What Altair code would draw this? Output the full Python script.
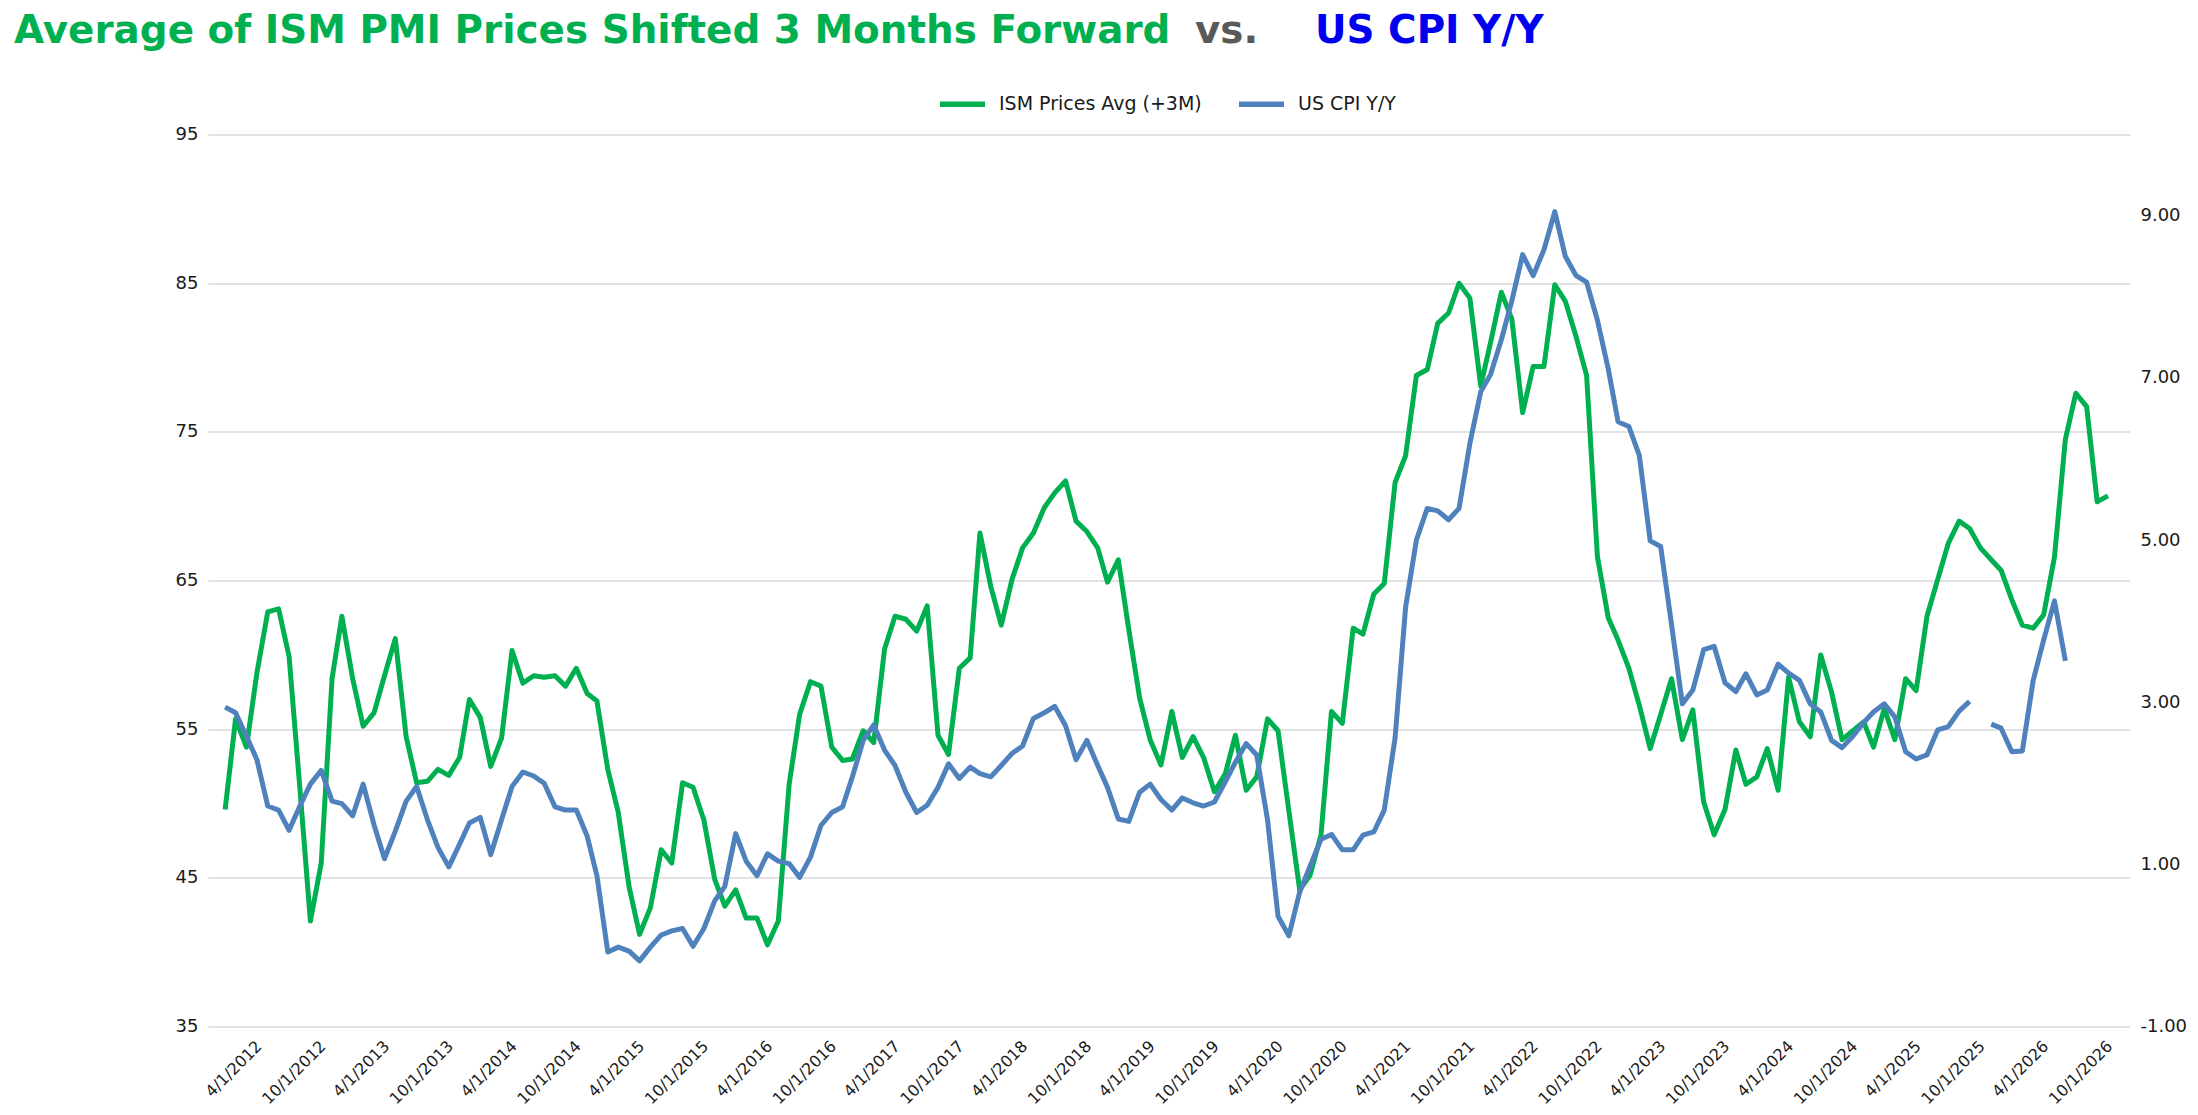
import altair as alt
import pandas as pd

# ---------------- data ----------------
ism_prices_avg = [
    49.6, 55.7, 53.8, 58.8, 62.9, 63.1, 59.9, 51.0, 42.1, 46.0,
    58.4, 62.6, 58.4, 55.2, 56.1, 58.6, 61.1, 54.5, 51.4, 51.5,
    52.3, 51.9, 53.1, 57.0, 55.8, 52.5, 54.4, 60.3, 58.1, 58.6,
    58.5, 58.6, 57.9, 59.1, 57.4, 56.9, 52.3, 49.4, 44.4, 41.2,
    43.0, 46.9, 46.0, 51.4, 51.1, 48.9, 44.9, 43.1, 44.2, 42.3,
    42.3, 40.5, 42.1, 51.3, 56.0, 58.2, 57.9, 53.8, 52.9, 53.0,
    54.9, 54.1, 60.4, 62.6, 62.4, 61.6, 63.3, 54.6, 53.3, 59.1,
    59.8, 68.2, 64.6, 62.0, 65.1, 67.2, 68.2, 69.9, 70.9, 71.7,
    69.0, 68.3, 67.2, 64.9, 66.4, 61.7, 57.1, 54.3, 52.6, 56.2,
    53.1, 54.5, 53.1, 50.8, 52.0, 54.6, 50.9, 51.8, 55.7, 54.9,
    49.5, 44.2, 45.2, 47.9, 56.2, 55.4, 61.8, 61.4, 64.1, 64.8,
    71.6, 73.4, 78.8, 79.2, 82.3, 83.0, 85.0, 84.0, 78.1, 81.0,
    84.4, 82.6, 76.3, 79.4, 79.4, 84.9, 83.8, 81.4, 78.8, 66.6,
    62.5, 61.0, 59.1, 56.6, 53.7, 56.0, 58.4, 54.3, 56.3, 50.1,
    47.9, 49.6, 53.6, 51.3, 51.8, 53.7, 50.9, 58.5, 55.5, 54.5,
    60.0, 57.5, 54.3, 54.9, 55.5, 53.8, 56.4, 54.3, 58.4, 57.6,
    62.6, 65.1, 67.5, 69.0, 68.5, 67.2, 66.4, 65.7, 63.7, 62.0,
    61.8, 62.7, 66.6, 74.5, 77.6, 76.7, 70.3, 70.7,
]

us_cpi_yy = [
    2.94, 2.87, 2.58, 2.29, 1.72, 1.67, 1.42, 1.72, 1.99, 2.16,
    1.78, 1.75, 1.60, 1.99, 1.49, 1.07, 1.41, 1.78, 1.96, 1.55,
    1.21, 0.97, 1.25, 1.51, 1.58, 1.12, 1.55, 1.96, 2.14, 2.09,
    2.00, 1.71, 1.67, 1.67, 1.35, 0.86, -0.08, -0.02, -0.07, -0.19,
    -0.02, 0.13, 0.18, 0.21, -0.01, 0.21, 0.55, 0.73, 1.38, 1.04,
    0.86, 1.13, 1.04, 1.01, 0.84, 1.09, 1.48, 1.64, 1.71, 2.08,
    2.53, 2.72, 2.41, 2.22, 1.89, 1.64, 1.73, 1.95, 2.24, 2.06,
    2.20, 2.12, 2.08, 2.22, 2.37, 2.46, 2.80, 2.87, 2.95, 2.71,
    2.29, 2.53, 2.22, 1.95, 1.56, 1.53, 1.89, 1.99, 1.80, 1.67,
    1.82, 1.76, 1.72, 1.77, 2.02, 2.26, 2.49, 2.35, 1.55, 0.36,
    0.12, 0.66, 0.98, 1.31, 1.37, 1.18, 1.18, 1.36, 1.40, 1.67,
    2.56, 4.17, 5.00, 5.39, 5.36, 5.25, 5.39, 6.19, 6.83, 7.04,
    7.47, 7.95, 8.52, 8.26, 8.58, 9.05, 8.50, 8.26, 8.18, 7.71,
    7.11, 6.46, 6.40, 6.04, 4.99, 4.92, 3.96, 2.98, 3.15, 3.65,
    3.69, 3.24, 3.13, 3.35, 3.09, 3.15, 3.47, 3.36, 3.27, 2.98,
    2.88, 2.53, 2.44, 2.58, 2.75, 2.88, 2.98, 2.82, 2.39, 2.30,
    2.35, 2.66, 2.70, 2.89, 3.01, None, 2.73, 2.68, 2.39, 2.40,
    3.27, 3.77, 4.25, 3.51,
]

series_names = ["ISM Prices Avg (+3M)", "US CPI Y/Y"]
title_parts = ["Average of ISM PMI Prices Shifted 3 Months Forward", "vs.", "US CPI Y/Y"]

x_tick_labels = [
    "4/1/2012", "10/1/2012", "4/1/2013", "10/1/2013", "4/1/2014", "10/1/2014",
    "4/1/2015", "10/1/2015", "4/1/2016", "10/1/2016", "4/1/2017", "10/1/2017",
    "4/1/2018", "10/1/2018", "4/1/2019", "10/1/2019", "4/1/2020", "10/1/2020",
    "4/1/2021", "10/1/2021", "4/1/2022", "10/1/2022", "4/1/2023", "10/1/2023",
    "4/1/2024", "10/1/2024", "4/1/2025", "10/1/2025", "4/1/2026", "10/1/2026",
]
left_ticks = [35, 45, 55, 65, 75, 85, 95]
right_ticks = [-1, 1, 3, 5, 7, 9]

GREEN = "#00B050"
BLUE = "#4F81BD"
TITLE_BLUE = "#0000F0"
GREY = "#595959"
TEXT = "#1a1a1a"
FONT = "DejaVu Sans"

# ---------------- tables ----------------
months = pd.date_range("2012-04-01", periods=len(ism_prices_avg), freq="MS").strftime("%Y-%m-%d")
ism_df = pd.DataFrame({"date": list(months), "value": ism_prices_avg, "series": series_names[0]})
cpi_df = pd.DataFrame({"date": list(months[: len(us_cpi_yy)]),
                       "value": pd.Series(us_cpi_yy, dtype="float"),
                       "series": series_names[1]})


def to_dt(label):
    m, d, y = (int(p) for p in label.split("/"))
    return alt.DateTime(year=y, month=m, date=d, utc=True)


tick_values = [to_dt(t) for t in x_tick_labels]
x_domain = [alt.DateTime(year=2012, month=2, date=12, utc=True),
            alt.DateTime(year=2027, month=3, date=5, utc=True)]

x_enc = alt.X(
    "date:T",
    scale=alt.Scale(type="utc", domain=x_domain),
    axis=alt.Axis(values=tick_values, format="%-m/%-d/%Y", labelAngle=-45,
                  labelAlign="right", labelBaseline="top", labelOffset=28,
                  labelPadding=11, labelFontSize=16, labelColor=TEXT,
                  labelOverlap=False, domain=False, ticks=False, grid=False,
                  title=None),
)

color_enc = alt.Color(
    "series:N",
    scale=alt.Scale(domain=series_names, range=[GREEN, BLUE]),
    legend=alt.Legend(orient="none", legendX=729, legendY=-56, direction="horizontal",
                      title=None, symbolType="stroke", symbolSize=2025,
                      symbolStrokeWidth=5.5, labelFontSize=19, labelOffset=11,
                      columnPadding=26, labelColor=TEXT, padding=0,
                      labelLimit=0, labelFont=FONT),
)

ism_line = alt.Chart(ism_df).mark_line(strokeWidth=5, strokeJoin="round").encode(
    x=x_enc,
    y=alt.Y("value:Q",
            scale=alt.Scale(domain=[35, 95], nice=False, zero=False),
            axis=alt.Axis(values=left_ticks, orient="left", grid=True,
                          gridColor="#d9d9d9", gridWidth=1.5, domain=False,
                          ticks=False, labelPadding=10, labelFontSize=18,
                          labelColor=TEXT, title=None)),
    color=color_enc,
)

cpi_line = alt.Chart(cpi_df).mark_line(strokeWidth=5, strokeJoin="round").encode(
    x=x_enc,
    y=alt.Y("value:Q",
            scale=alt.Scale(domain=[-1, 10], nice=False, zero=False),
            axis=alt.Axis(values=right_ticks, orient="right",
                          labelExpr="(datum.value < 0 ? '-' : '') + format(abs(datum.value), '.2f')",
                          grid=False, domain=False, ticks=False, labelPadding=10,
                          labelFontSize=18, labelColor=TEXT, title=None)),
    color=color_enc,
)


def title_piece(text, x, color):
    return alt.Chart(pd.DataFrame({"t": [text]})).mark_text(
        align="left", baseline="alphabetic", font=FONT, fontWeight="bold",
        fontSize=38.9, color=color,
    ).encode(x=alt.value(x), y=alt.value(-91.6), text="t:N")


chart = alt.layer(
    ism_line,
    cpi_line,
    title_piece(title_parts[0], -194, GREEN),
    title_piece(title_parts[1], 987, GREY),
    title_piece(title_parts[2], 1107, TITLE_BLUE),
).resolve_scale(
    y="independent"
).properties(
    width=1922,
    height=892,
    padding={"left": 200, "top": 126.6, "right": 60, "bottom": 88},
    autosize=alt.AutoSizeParams(type="none"),
    background="white",
).configure(
    font=FONT,
).configure_view(
    strokeWidth=0,
)

chart.save("out.html", embed_options={"renderer": "svg", "actions": False})
